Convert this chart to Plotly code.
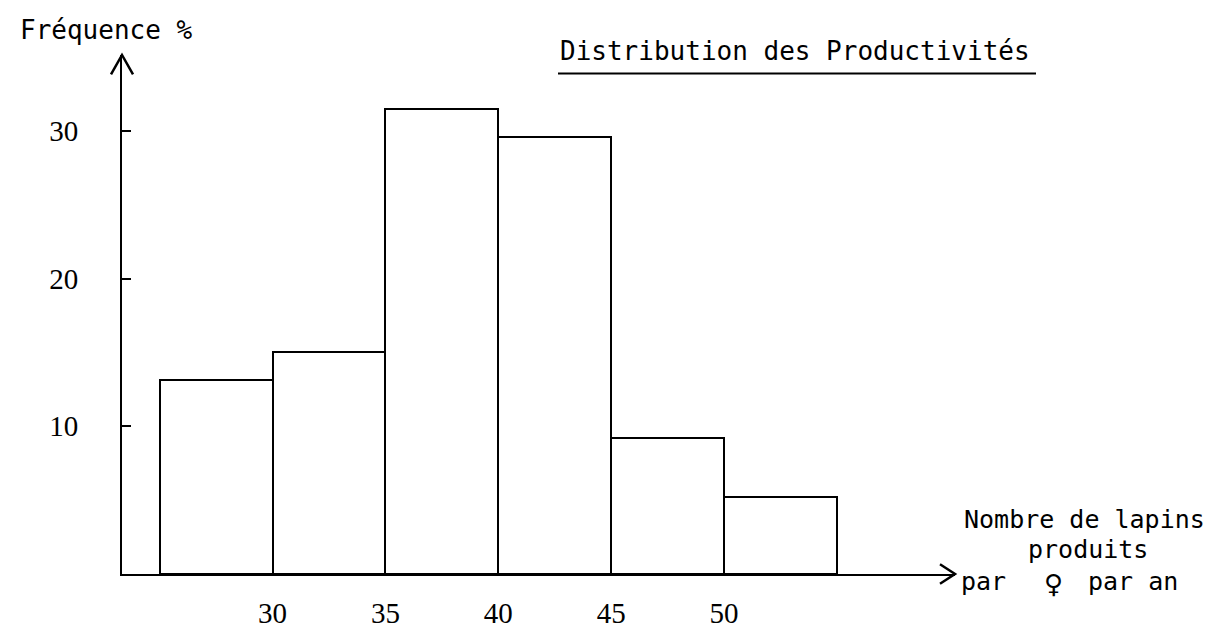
import plotly.graph_objects as go

# Data
bin_left = [25, 30, 35, 40, 45, 50]
bin_width = 5
frequence = [13.1, 15.0, 31.5, 29.6, 9.2, 5.2]

x_tick_vals = [30, 35, 40, 45, 50]
x_tick_text = ["30", "35", "40", "45", "50"]
y_tick_vals = [10, 20, 30]
y_tick_text = ["10", "20", "30"]

title_text = "Distribution des Productivités"
y_title = "Fréquence %"
x_title_line1 = "Nombre de lapins"
x_title_line2 = "produits"
x_title_line3 = ["par", "♀", "par an"]

centers = [b + bin_width / 2 for b in bin_left]

MONO = "DejaVu Sans Mono"
SERIF = "Liberation Serif"

# plot area in pixels
L, R, T, B = 114, 947, 47, 582
PW, PH = R - L, B - T


def px(x):
    return (x - L) / PW


def py(y):
    return (B - y) / PH


fig = go.Figure()
fig.add_trace(go.Bar(
    x=centers, y=frequence, width=[bin_width] * len(centers),
    marker=dict(color="white", line=dict(color="black", width=2)),
    showlegend=False, hoverinfo="x+y",
))

fig.update_layout(
    width=1226, height=633,
    margin=dict(l=L, r=1226 - R, t=T, b=633 - B),
    paper_bgcolor="white", plot_bgcolor="white",
    bargap=0,
    xaxis=dict(
        range=[23.33, 60.23], showgrid=False, zeroline=False,
        showline=True, linecolor="black", linewidth=2,
        tickvals=x_tick_vals, ticktext=x_tick_text, ticks="",
        tickfont=dict(family=SERIF, size=29, color="black"),
        ticklabelstandoff=12,
    ),
    yaxis=dict(
        range=[0, 35.13], showgrid=False, zeroline=False,
        showline=True, linecolor="black", linewidth=2,
        tickvals=y_tick_vals, ticktext=y_tick_text,
        ticks="inside", ticklen=9, tickwidth=2, tickcolor="black",
        tickfont=dict(family=SERIF, size=29, color="black"),
        ticklabelstandoff=36,
    ),
    shapes=[
        # arrowhead on y axis
        dict(type="path", xref="paper", yref="paper",
             path=f"M {px(L-11)},{py(T+20)} L 0,1 L {px(L+11)},{py(T+20)}",
             line=dict(color="black", width=2.5)),
        # arrowhead on x axis
        dict(type="path", xref="paper", yref="paper",
             path=f"M {px(R-15)},{py(B-10)} L 1,0 L {px(R-15)},{py(B+10)}",
             line=dict(color="black", width=2.5)),
        # title underline
        dict(type="line", xref="paper", yref="paper",
             x0=px(550), x1=px(1028), y0=py(66), y1=py(66),
             line=dict(color="black", width=2)),
    ],
    annotations=[
        dict(text=y_title, xref="paper", yref="paper", x=px(10), y=py(21),
             xanchor="left", yanchor="middle", showarrow=False,
             font=dict(family=MONO, size=26, color="black")),
        dict(text=title_text, xref="paper", yref="paper",
             x=px(787), y=py(43),
             xanchor="center", yanchor="middle", showarrow=False,
             font=dict(family=MONO, size=26, color="black")),
        dict(text=x_title_line1, xref="paper", yref="paper",
             x=px(1076), y=py(526),
             xanchor="center", yanchor="middle", showarrow=False,
             font=dict(family=MONO, size=25, color="black")),
        dict(text=x_title_line2, xref="paper", yref="paper",
             x=px(1080), y=py(557),
             xanchor="center", yanchor="middle", showarrow=False,
             font=dict(family=MONO, size=25, color="black")),
        dict(text=x_title_line3[0], xref="paper", yref="paper",
             x=px(951), y=py(590),
             xanchor="left", yanchor="middle", showarrow=False,
             font=dict(family=MONO, size=25, color="black")),
        dict(text="<b>" + x_title_line3[1] + "</b>", xref="paper", yref="paper",
             x=px(1045), y=py(592),
             xanchor="center", yanchor="middle", showarrow=False,
             font=dict(family="DejaVu Sans", size=26, color="black")),
        dict(text=x_title_line3[2], xref="paper", yref="paper",
             x=px(1078), y=py(590),
             xanchor="left", yanchor="middle", showarrow=False,
             font=dict(family=MONO, size=25, color="black")),
    ],
)

fig.write_html("out.html")
